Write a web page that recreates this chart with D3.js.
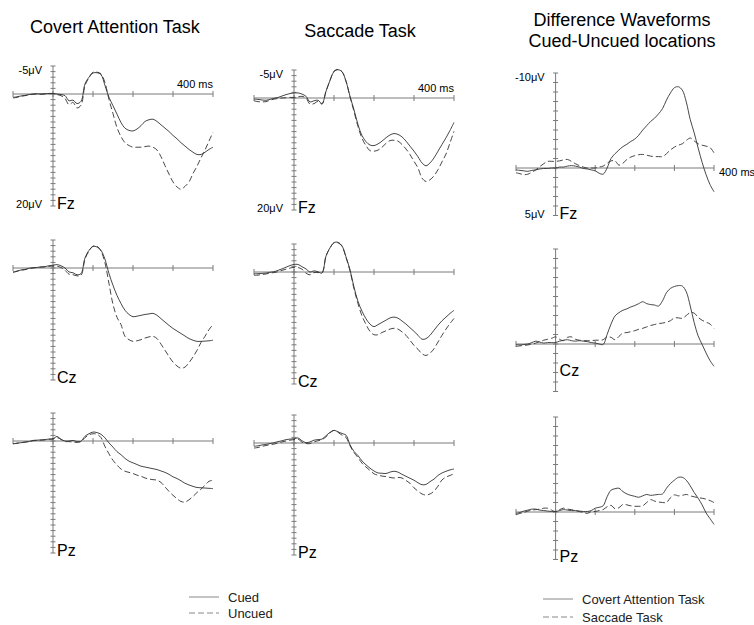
<!DOCTYPE html>
<html>
<head>
<meta charset="utf-8">
<script src="https://cdn.jsdelivr.net/npm/d3@7"></script>
<style>
  body { margin: 0; background: #fff; }
  svg { font-family: "Liberation Sans", Arial, sans-serif; }
</style>
</head>
<body>
<script>
const w = 754;
const h = 625;

// sample times, ms (every 10 ms from -100 to 400)
const times = d3.range(-100, 401, 10);

// grand average ERPs, microvolts (negative up)
const covertFzCued = [0.6,0.5,0.35,0.25,0.1,0,-0.05,0,-0.05,-0.1, -0.1,0,0.1,0.3,1.2,1.1,1.7,1.3,-1.8,-3.0,
  -3.75,-3.8,-3.45,-1.5,0.6,2.1,3.6,5.1,6.1,6.5, 6.6,6.25,5.65,4.9,4.6,4.5,4.9,5.5,6.1,6.7,
  7.4,8.0,8.7,9.3,9.9,10.4,10.8,10.8,10.4,9.9, 9.5];
const covertFzUncued = [0.7,0.6,0.4,0.3,0.15,0.05,0,0.05,0,-0.05, -0.1,0.1,0.3,0.8,1.9,1.5,2.5,2.0,-1.5,-2.9,
  -3.9,-3.9,-3.6,-2.0,1.0,3.5,6.0,7.6,8.7,9.2, 9.5,9.5,9.5,9.4,9.3,9.5,10.0,11.2,12.8,14.3,
  15.7,16.6,17.0,16.5,15.7,14.2,12.9,11.4,10.0,8.4, 6.85];
const covertCzCued = [0.7,0.55,0.35,0.25,0.05,-0.05,-0.1,-0.2,-0.25,-0.4, -0.5,-0.6,-0.4,0,0.7,0.85,1.2,1.0,-1.8,-3.15,
  -3.85,-3.75,-3.15,-1.55,1.0,3.1,4.9,6.35,7.55,8.3, 8.7,8.6,8.45,8.3,8.2,8.1,8.45,9.05,9.65,10.25,
  10.8,11.25,11.7,12.15,12.6,12.9,13.1,13.1,13.05,13.0, 12.9];
const covertCzUncued = [0.8,0.6,0.4,0.3,0.1,0,-0.1,-0.15,-0.2,-0.3, -0.35,-0.3,-0.1,0.4,1.1,1.2,1.4,1.3,-1.6,-3.0,
  -3.9,-3.9,-3.0,-0.9,2.8,6.5,8.8,10.1,12.2,12.8, 13.1,13.0,12.8,12.5,12.3,12.2,12.6,13.6,14.7,15.8,
  16.8,17.5,17.9,17.7,16.9,15.9,14.7,13.3,12.2,11.0, 10.1];
const covertPzCued = [0.5,0.4,0.3,0.2,0.1,-0.1,-0.15,-0.2,-0.25,-0.35, -0.4,-0.8,-0.3,0.0,0.0,-0.1,0.1,0.05,-0.85,-1.3,
  -1.6,-1.5,-1.2,-0.55,0.35,1.1,1.9,2.45,3.1,3.6, 3.9,4.2,4.5,4.65,4.8,4.95,5.1,5.35,5.6,5.95,
  6.4,6.7,7.1,7.55,7.85,8.1,8.3,8.35,8.4,8.45, 8.5];
const covertPzUncued = [0.5,0.4,0.3,0.2,0.1,-0.05,-0.1,-0.15,-0.2,-0.3, -0.35,-0.6,-0.3,0.1,0.1,0.2,0.25,0.1,-0.6,-1.1,
  -1.3,-1.2,-0.6,1.0,2.3,3.45,4.3,5.0,5.4,5.6, 5.8,6.1,6.3,6.6,6.8,6.9,7.0,7.4,8.2,9.0,
  9.7,10.3,10.8,10.9,10.5,9.9,9.2,8.6,7.9,7.2, 7.0];

const saccadeFzCued = [0.2,0.25,0.35,0.4,0.25,0.05,-0.1,-0.35,-0.6,-0.8, -0.9,-0.9,-0.7,-0.3,0.7,0.5,0.4,1.0,-1.2,-3.15,
  -4.7,-5.05,-4.7,-3.0,-0.3,2.1,4.75,6.7,7.8,8.4, 8.5,8.2,7.7,7.1,6.6,6.35,6.5,6.95,7.7,8.6,
  9.5,10.5,11.6,12.1,11.6,10.7,9.5,8.3,7.1,5.8, 4.35];
const saccadeFzUncued = [0.5,0.65,0.7,0.65,0.4,0.2,0.1,0.0,-0.05,-0.1, -0.1,-0.2,-0.3,0.0,1.1,1.0,0.6,1.1,-1.2,-3.1,
  -4.8,-5.1,-4.7,-3.0,-0.2,2.4,5.1,7.2,8.5,9.4, 9.5,9.3,8.8,8.1,7.6,7.55,7.7,8.3,9.1,10.1,
  11.3,12.5,14.3,14.9,14.6,13.9,12.8,11.4,10.0,8.0, 5.95];
const saccadeCzCued = [0.3,0.3,0.25,0.2,0.05,-0.05,-0.3,-0.55,-0.85,-1.15, -1.35,-1.35,-0.95,-0.55,0,-0.2,-0.05,0.2,-2.85,-4.3,
  -5.25,-5.3,-4.65,-2.7,-0.4,2.7,5.25,7.0,8.35,9.3, 9.75,9.4,9.0,8.6,8.2,8.05,8.25,8.75,9.3,9.95,
  10.6,11.3,12.0,11.9,11.3,10.4,9.5,8.7,8.05,7.4, 6.85];
const saccadeCzUncued = [0.6,0.55,0.45,0.35,0.2,0.1,-0.05,-0.3,-0.5,-0.7, -0.85,-0.8,-0.5,0.2,0.5,0.1,0.1,0.1,-2.8,-4.3,
  -5.2,-5.2,-4.6,-2.6,-0.2,3.0,5.65,7.85,9.35,10.6, 11.2,11.2,10.8,10.5,10.2,10.05,10.2,10.7,11.3,12.2,
  13.1,13.8,14.6,14.9,14.5,13.7,12.5,11.3,10.2,9.2, 8.3];
const saccadePzCued = [0.6,0.5,0.35,0.25,0.1,-0.05,-0.25,-0.4,-0.6,-0.7, -0.75,-0.9,-0.4,-0.05,-0.2,-0.5,-0.6,-0.7,-1.3,-1.9,
  -2.25,-2.0,-1.7,-1.4,0.3,1.5,2.25,3.2,3.9,4.5, 5.0,5.35,5.4,5.45,5.2,5.05,5.2,5.6,5.95,6.3,
  6.65,7.1,7.45,7.4,6.9,6.45,5.8,5.35,5.05,4.8, 4.65];
const saccadePzUncued = [0.9,0.8,0.6,0.45,0.3,0.2,0,-0.2,-0.35,-0.5, -0.6,-0.7,-0.15,0.1,0.1,-0.2,-0.4,-0.6,-1.1,-1.8,
  -2.25,-1.9,-1.4,-1.0,0.5,1.7,2.6,3.6,4.3,4.9, 5.5,5.75,5.9,6.0,6.15,6.25,6.15,6.25,6.7,7.2,
  8.0,8.6,9.1,9.3,9.1,8.6,7.7,6.6,6.1,5.8, 5.5];

// difference waveforms (cued - uncued), microvolts
const diffFzCovert = [0.2,0.25,0.3,0.35,0.25,0.2,0.1,0.05,0.05,0, 0,-0.1,-0.1,-0.2,-0.25,-0.2,-0.1,0.05,0.1,0.2,
  0.3,0.55,0.65,0.0,-1.0,-1.5,-1.9,-2.25,-2.5,-2.8, -3.05,-3.45,-4.0,-4.45,-4.9,-5.25,-5.7,-6.25,-7.15,-7.9,
  -8.45,-8.55,-8.2,-6.95,-5.1,-3.7,-2.1,-0.6,0.7,1.75, 2.5];
const diffFzSaccade = [0.5,0.6,0.7,0.65,0.45,0.2,-0.15,-0.45,-0.7,-0.7, -0.7,-0.75,-0.85,-0.9,-0.7,-0.45,-0.25,-0.1,0,0,
  0,-0.1,-0.2,-0.5,-0.75,-0.75,-0.3,-0.5,-0.9,-1.15, -1.3,-1.4,-1.43,-1.35,-1.25,-1.2,-1.2,-1.2,-1.5,-1.9,
  -2.2,-2.4,-2.55,-2.9,-3.15,-2.85,-2.55,-2.4,-2.3,-2.15, -1.6];
const diffCzCovert = [0.05,0.1,0.05,0,-0.15,-0.3,-0.2,-0.1,-0.15,-0.15, -0.15,-0.3,-0.4,-0.45,-0.35,-0.3,-0.35,-0.3,-0.25,-0.15,
  -0.1,0,0.05,-1.0,-2.1,-2.95,-3.3,-3.55,-3.7,-3.9, -4.05,-4.25,-4.45,-4.25,-4.15,-4.1,-4.0,-4.55,-5.4,-5.85,
  -6.05,-6.15,-6.1,-5.5,-4.0,-2.25,-0.85,0.05,0.95,1.75, 2.35];
const diffCzSaccade = [0.25,0.2,0.15,0.1,0,-0.1,-0.25,-0.4,-0.5,-0.6, -0.75,-0.5,-0.35,-0.7,-0.75,-0.5,-0.4,-0.35,-0.35,-0.35,
  -0.4,-0.4,-0.45,-0.75,-0.7,-0.45,-0.8,-1.15,-1.2,-1.3, -1.4,-1.55,-1.65,-1.8,-1.95,-2.05,-2.15,-2.2,-2.3,-2.45,
  -2.75,-2.75,-2.7,-3.0,-3.3,-3.25,-2.8,-2.5,-2.3,-2.1, -1.65];
const diffPzCovert = [0.15,0.05,-0.1,-0.2,-0.3,-0.3,-0.2,-0.15,-0.1,-0.05, -0.05,-0.15,-0.25,-0.2,-0.15,-0.15,-0.1,-0.05,-0.05,-0.15,
  -0.4,-0.5,-0.65,-1.6,-2.3,-2.45,-2.5,-2.15,-1.9,-1.75, -1.65,-1.55,-1.7,-1.85,-1.75,-1.8,-1.85,-1.9,-2.5,-3.0,
  -3.35,-3.65,-3.65,-3.35,-2.75,-2.05,-1.45,-0.75,0.1,0.7, 1.3];
const diffPzSaccade = [0.3,0.15,0.05,-0.1,-0.2,-0.25,-0.3,-0.4,-0.4,-0.2, -0.05,-0.25,-0.4,-0.3,-0.25,-0.15,-0.05,0.05,0.15,-0.05,
  -0.05,-0.15,-0.25,-0.55,-0.7,-0.35,-0.45,-0.8,-0.75,-0.65, -0.6,-0.6,-0.65,-1.0,-1.3,-1.15,-1.05,-1.0,-1.0,-1.5,
  -1.8,-1.7,-1.75,-1.85,-1.7,-1.6,-1.5,-1.45,-1.35,-1.2, -1.0];

const titles = ["Covert Attention Task", "Saccade Task", ["Difference Waveforms", "Cued-Uncued locations"]];
const channels = ["Fz", "Cz", "Pz"];
const timeTicks = [-100, 0, 100, 200, 300, 400];
const legendLeft = ["Cued", "Uncued"];
const legendRight = ["Covert Attention Task", "Saccade Task"];

const svg = d3.select("body")
  .append("svg")
  .attr("width", w)
  .attr("height", h);

const lineColor = "#333";
const axisColor = "#7a7a7a";

// one waveform panel
function drawPanel(p) {
  const x = d3.scaleLinear().domain([-100, 400]).range(p.xRange);
  const y = d3.scaleLinear().domain([0, 1]).range([p.y0, p.y0 + p.pxPerUv]);
  const g = svg.append("g");
  const x0 = x(0);

  // time axis
  g.append("line")
    .attr("x1", x(-100)).attr("x2", x(400))
    .attr("y1", p.y0).attr("y2", p.y0)
    .attr("stroke", axisColor);
  g.selectAll(".xt")
    .data(timeTicks)
    .enter()
    .append("line")
    .attr("x1", d => x(d)).attr("x2", d => x(d))
    .attr("y1", p.y0 - 3).attr("y2", p.y0 + 3)
    .attr("stroke", axisColor);

  // voltage axis
  g.append("line")
    .attr("x1", x0).attr("x2", x0)
    .attr("y1", y(p.yDomain[0])).attr("y2", y(p.yDomain[1]))
    .attr("stroke", axisColor);
  g.selectAll(".yt")
    .data(d3.range(p.yDomain[0], p.yDomain[1] + 0.01, 1))
    .enter()
    .append("line")
    .attr("x1", x0 - 2.5).attr("x2", x0 + 2.5)
    .attr("y1", d => y(d)).attr("y2", d => y(d))
    .attr("stroke", axisColor);

  const line = d3.line()
    .x((d, i) => x(times[i]))
    .y(d => y(d))
    .curve(d3.curveCatmullRom);

  g.append("path")
    .attr("d", line(p.dashed))
    .attr("fill", "none")
    .attr("stroke", lineColor)
    .attr("stroke-width", 0.9)
    .attr("stroke-dasharray", "6,3");
  g.append("path")
    .attr("d", line(p.solid))
    .attr("fill", "none")
    .attr("stroke", lineColor)
    .attr("stroke-width", 0.9);

  g.append("text")
    .attr("x", x0 + 4)
    .attr("y", p.labelY)
    .attr("font-size", 16)
    .text(p.channel);

  if (p.scaleLabels) {
    g.append("text")
      .attr("x", x0 - 11).attr("y", y(p.yDomain[0]) + 8)
      .attr("text-anchor", "end").attr("font-size", 11)
      .text(p.yDomain[0] + "μV");
    g.append("text")
      .attr("x", x0 - 11).attr("y", y(p.yDomain[1]) + 2)
      .attr("text-anchor", "end").attr("font-size", 11)
      .text(p.yDomain[1] + "μV");
    if (p.msRight) {
      g.append("text")
        .attr("x", x(400) + 5).attr("y", p.y0 + 8)
        .attr("font-size", 11)
        .text("400 ms");
    } else {
      g.append("text")
        .attr("x", x(400)).attr("y", p.y0 - 6)
        .attr("text-anchor", "end").attr("font-size", 11)
        .text("400 ms");
    }
  }
}

const data = [
  [[covertFzCued, covertFzUncued], [covertCzCued, covertCzUncued], [covertPzCued, covertPzUncued]],
  [[saccadeFzCued, saccadeFzUncued], [saccadeCzCued, saccadeCzUncued], [saccadePzCued, saccadePzUncued]],
  [[diffFzCovert, diffFzSaccade], [diffCzCovert, diffCzSaccade], [diffPzCovert, diffPzSaccade]]
];

const cols = [
  { xRange: [13, 213], pxPerUv: 5.6, yDomain: [-5, 20], base: [94, 268, 441], labelOff: [3, 3, 3] },
  { xRange: [254, 454], pxPerUv: 5.6, yDomain: [-5, 20], base: [98, 272, 443], labelOff: [3, 3, 3] },
  { xRange: [516, 714], pxPerUv: 9.5, yDomain: [-10, 5], base: [168, 344, 512], labelOff: [3, -16, 2] }
];

cols.forEach((c, ci) => {
  channels.forEach((ch, ri) => {
    const y0 = c.base[ri];
    drawPanel({
      xRange: c.xRange,
      pxPerUv: c.pxPerUv,
      yDomain: c.yDomain,
      y0: y0,
      channel: ch,
      labelY: y0 + c.yDomain[1] * c.pxPerUv + c.labelOff[ri],
      solid: data[ci][ri][0],
      dashed: data[ci][ri][1],
      scaleLabels: ri === 0,
      msRight: ci === 2
    });
  });
});

// titles
svg.append("text").attr("x", 115).attr("y", 33)
  .attr("text-anchor", "middle").attr("font-size", 18).text(titles[0]);
svg.append("text").attr("x", 360).attr("y", 37)
  .attr("text-anchor", "middle").attr("font-size", 18).text(titles[1]);
titles[2].forEach((t, i) => {
  svg.append("text").attr("x", 622).attr("y", 26 + i * 21)
    .attr("text-anchor", "middle").attr("font-size", 18).text(t);
});

// legends
function legend(x, y, labels, gap) {
  const lg = svg.append("g").attr("transform", "translate(" + x + "," + y + ")");
  labels.forEach((l, i) => {
    lg.append("line")
      .attr("x1", 0).attr("x2", 30)
      .attr("y1", i * gap).attr("y2", i * gap)
      .attr("stroke", "#888")
      .attr("stroke-dasharray", i === 1 ? "6,3" : null);
    lg.append("text")
      .attr("x", 39).attr("y", i * gap + 5)
      .attr("font-size", 13)
      .attr("fill", "#222")
      .text(l);
  });
}
legend(189, 597, legendLeft, 16);
legend(543, 599, legendRight, 18);
</script>
</body>
</html>
